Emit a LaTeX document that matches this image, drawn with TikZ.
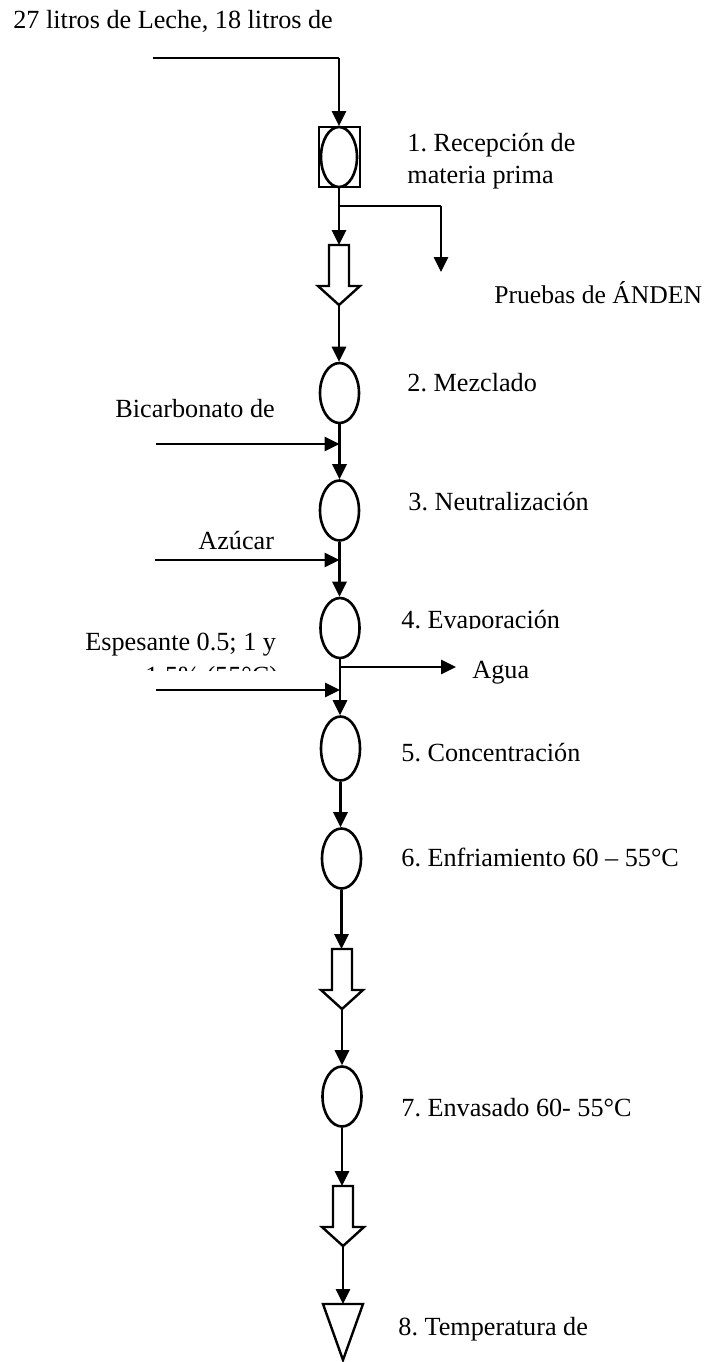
\documentclass[tikz,border=0pt]{standalone}
\usepackage{fontspec}
\setmainfont{Liberation Serif}
\frenchspacing
\usetikzlibrary{arrows.meta,shapes.geometric}
\tikzset{
  lbl/.style={anchor=base west,inner sep=0pt,font=\fontsize{13.1pt}{15.5pt}\selectfont},
  proc/.style={draw,ellipse,line width=1.3pt,minimum width=19.5pt,minimum height=30pt,inner sep=0pt},
  arr/.style={line width=1.45pt,-{Triangle[width=7pt,length=7.5pt]}},
  thinln/.style={line width=0.65pt},
  fatline/.style={line width=1.2pt,fill=white,line join=miter},
}
\newcommand{\fatarr}[3]{% name, x, ytop
  \draw[fatline] (#2-10,#3) -- (#2+10,#3) -- (#2+10,#3+41) -- (#2+21,#3+41) -- (#2,#3+60)
    -- (#2-21,#3+41) -- (#2-10,#3+41) -- cycle;
  \coordinate (#1top) at (#2,#3);
  \coordinate (#1tip) at (#2,#3+60);
}
\begin{document}
\begin{tikzpicture}[x=0.5pt,y=-0.5pt]
\useasboundingbox (0,0) rectangle (708,1362);

% texts
\node[lbl] (t0) at (13,28) {27 litros de Leche, 18 litros de};
\node[lbl] (t1a) at (407,151) {1. Recepción de};
\node[lbl] (t1b) at (407,183) {materia prima};
\node[lbl,font=\fontsize{12.8pt}{15.5pt}\selectfont] (tpr) at (494,303) {Pruebas de ÁNDEN};
\node[lbl] (t2) at (407,391.5) {2. Mezclado};
\node[lbl] (tbic) at (115,417) {Bicarbonato de};
\node[lbl] (t3) at (408,510) {3. Neutralización};
\node[lbl] (tazu) at (198,549) {Azúcar};
\begin{scope}
  \clip (380,580) rectangle (708,628.5);
  \node[lbl] (t4) at (401,628) {4. Evaporación};
\end{scope}
\node[lbl] (tesp) at (85,650) {Espesante 0.5; 1 y};
\begin{scope}
  \clip (60,655) rectangle (300,670);
  \node[lbl] (tesp2) at (145,684) {1.5\% (55°C)};
\end{scope}
\node[lbl] (tagua) at (472,678) {Agua};
\node[lbl] (t5) at (401,761.5) {5. Concentración};
\node[lbl] (t6) at (401,866.5) {6. Enfriamiento 60 – 55°C};
\node[lbl] (t7) at (401,1116.5) {7. Envasado 60- 55°C};
\node[lbl] (t8) at (398,1335) {8. Temperatura de};

% step 1 box
\node[draw,line width=1pt,minimum width=20.5pt,minimum height=30pt,inner sep=0pt] (b1) at (339,157) {};
\node[draw,ellipse,line width=1.3pt,minimum width=18pt,minimum height=30pt,inner sep=0pt] (e1) at (339,157) {};

% process ellipses
\node[proc] (e2) at (339.5,393) {};
\node[proc] (e3) at (339.5,510.5) {};
\node[proc] (e4) at (340,628) {};
\node[proc,minimum height=32pt] (e5) at (340.5,748.5) {};
\node[proc] (e6) at (341.5,858.5) {};
\node[proc] (e7) at (342,1096.5) {};

% fat arrows
\fatarr{fa}{339}{245}
\fatarr{fb}{342}{949}
\fatarr{fc}{343}{1186}

% final triangle
\draw[line width=1.2pt,line join=miter] (323,1304) -- (363,1304) -- (343,1360) -- cycle;
\coordinate (tri) at (343,1304);

% input line at top
\coordinate (in0) at (153,58);
\coordinate (in1) at (339,58);
\draw[thinln] (in0) -- (in1);
\draw[arr] (in1) -- (b1.north);

% after step 1 with branch to Pruebas de ANDEN
\draw[arr] (b1.south) -- (fatop);
\coordinate (br0) at (339,206);
\coordinate (br1) at (441,206);
\coordinate (br2) at (441,272);
\draw[thinln] (br0) -- (br1);
\draw[arr] (br1) -- (br2);

% main flow
\draw[arr] (fatip) -- (fatip |- e2.north);
\draw[arr] (e2.south) -- (e3.north);
\draw[arr] (e3.south) -- (e3.south |- e4.north);
\draw[arr] (e4.south) -- (e4.south |- e5.north);
\draw[arr] (e5.south) -- (e5.south |- e6.north);
\draw[arr] (e6.south) -- (e6.south |- fbtop);
\draw[arr] (fbtip) -- (e7.north);
\draw[arr] (e7.south) -- (e7.south |- fctop);
\draw[arr] (fctip) -- (tri);

% side inputs / outputs
\coordinate (bic0) at (156,444);
\coordinate (bic1) at (339.5,444);
\draw[arr] (bic0) -- (bic1);
\coordinate (azu0) at (155,560);
\coordinate (azu1) at (339.5,560);
\draw[arr] (azu0) -- (azu1);
\coordinate (ag0) at (340,667);
\coordinate (ag1) at (456,667);
\draw[arr] (ag0) -- (ag1);
\coordinate (es0) at (156,690);
\coordinate (es1) at (340,690);
\draw[arr] (es0) -- (es1);
\end{tikzpicture}
\end{document}
